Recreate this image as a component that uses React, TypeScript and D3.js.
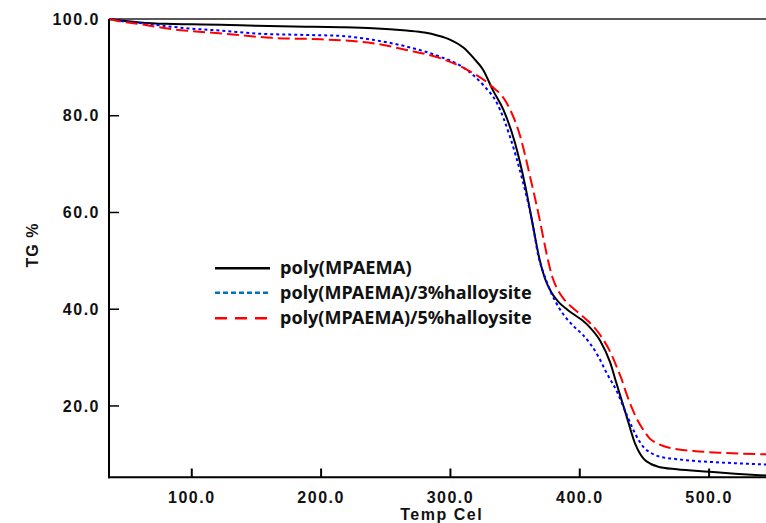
import React from "react";
import * as d3 from "d3";

const xTicks = [100, 200, 300, 400, 500];
const yTicks = [20, 40, 60, 80, 100];

const blackT = [36, 45, 60, 80, 100, 122, 150, 188, 215, 240, 266, 280, 290, 300, 310, 318, 325, 333, 341, 350, 358, 364, 369, 373, 378, 383.5, 390, 395, 402, 408, 416, 423.5, 428, 436.4, 442.8, 449.3, 455, 460, 475, 500, 520, 544];
const blackTG = [100, 99.7, 99.3, 99.0, 98.9, 98.8, 98.6, 98.4, 98.3, 98.1, 97.6, 97.2, 96.6, 95.7, 94.1, 91.9, 89.6, 85.2, 81.2, 74.3, 65.3, 57.0, 50.2, 46.4, 43.5, 41.5, 40.0, 39.0, 37.7, 36.2, 33.4, 29.0, 25.0, 17.7, 12.2, 9.1, 8.0, 7.5, 6.9, 6.4, 6.0, 5.6];

const blueT = [36, 45, 59, 84.5, 100, 123, 149, 188, 215, 240, 266, 292, 308, 318, 325.5, 336, 346, 355, 363, 368, 373, 378, 383.5, 390, 396, 402, 408, 414, 421, 428.7, 435, 440.3, 445, 449.3, 455, 462, 475, 488, 510, 544];
const blueTG = [100, 99.6, 99.2, 98.4, 98.0, 97.6, 97.0, 96.7, 96.5, 95.7, 94.3, 92.2, 90.3, 88.3, 86.3, 82.6, 75.7, 67.4, 58.4, 51.0, 46.7, 43.3, 40.5, 38.0, 36.3, 34.8, 32.9, 30.4, 26.7, 23.0, 19.0, 15.7, 13.2, 11.5, 10.3, 9.5, 9.0, 8.65, 8.3, 7.9];

const redT = [36, 45, 59, 84.5, 100, 123, 162, 200, 215, 240, 266, 292, 313, 331, 343.6, 354, 361.6, 369.4, 372, 376, 379, 383, 388, 394, 400.3, 407, 413.2, 418, 423.5, 428.7, 432, 436, 440.3, 445, 449.3, 454, 459.6, 470, 488, 510, 544];
const redTG = [100, 99.5, 99.0, 97.9, 97.5, 97.0, 96.1, 95.8, 95.6, 95.0, 93.6, 91.9, 89.5, 86.3, 82.6, 75.7, 67.4, 58.0, 54.5, 49.5, 46.5, 44.0, 42.0, 40.4, 39.0, 37.4, 35.6, 33.8, 31.2, 28.0, 25.8, 22.6, 19.6, 16.9, 15.0, 13.3, 12.3, 11.3, 10.7, 10.3, 10.0];

const seriesNames = ["poly(MPAEMA)", "poly(MPAEMA)/3%halloysite", "poly(MPAEMA)/5%halloysite"];

export default function App() {
  const W = 766, H = 523;
  const x = d3.scaleLinear().domain([36, 544]).range([109, 766]);
  const y = d3.scaleLinear().domain([5.25, 100]).range([477.3, 19]);
  const line = d3
    .line<[number, number]>()
    .x((d) => x(d[0]))
    .y((d) => y(d[1]))
    .curve(d3.curveMonotoneX);
  const zip = (a: number[], b: number[]) => a.map((v, i) => [v, b[i]] as [number, number]);

  const series = [
    { data: zip(blackT, blackTG), color: "#000000", dash: "", legendColor: "#000000", legendDash: "", width: 2 },
    { data: zip(blueT, blueTG), color: "#0000ff", dash: "3,3", legendColor: "#0070c0", legendDash: "5,3", width: 2 },
    { data: zip(redT, redTG), color: "#ff0000", dash: "12,5", legendColor: "#ff0000", legendDash: "12,8", width: 2 },
  ];

  const tickFont = { fontFamily: "'Liberation Sans', Arial, sans-serif", fontWeight: 700, fontSize: 16, letterSpacing: 1.5 } as const;
  const legendRows = [274, 299, 324];
  const legendLineY = [268.3, 292.7, 318.3];
  const legendWidths = [131.7, 251.7, 251.7];

  return (
    <svg width={W} height={H} style={{ position: "absolute", left: 0, top: 0, background: "#fff" }}>
      <rect x={0} y={0} width={W} height={H} fill="#fff" />
      <line x1={109} x2={766} y1={y(100)} y2={y(100)} stroke="#222" strokeWidth={1.5} />
      {series.map((s, i) => (
        <path key={i} d={line(s.data) || ""} fill="none" stroke={s.color} strokeWidth={s.width} strokeDasharray={s.dash} />
      ))}
      <line x1={109} x2={109} y1={y(100)} y2={478.3} stroke="#000" strokeWidth={2} />
      <line x1={108} x2={766} y1={477.3} y2={477.3} stroke="#000" strokeWidth={2} />
      {xTicks.map((t) => (
        <g key={"x" + t}>
          <line x1={x(t)} x2={x(t)} y1={477.3} y2={468.5} stroke="#000" strokeWidth={2} />
          <text x={x(t)} y={503} textAnchor="middle" fill="#111" {...tickFont}>
            {t.toFixed(1)}
          </text>
        </g>
      ))}
      {yTicks.map((t) => (
        <g key={"y" + t}>
          {t < 100 && <line x1={109} x2={119} y1={y(t)} y2={y(t)} stroke="#000" strokeWidth={1.5} />}
          <text x={100} y={y(t)} dy="0.36em" textAnchor="end" fill="#111" {...tickFont}>
            {t.toFixed(1)}
          </text>
        </g>
      ))}
      <text x={441.7} y={520} textAnchor="middle" fill="#111" {...tickFont}>
        Temp Cel
      </text>
      <text transform="translate(38,245) rotate(-90)" textAnchor="middle" fill="#111" {...tickFont} letterSpacing={1}>
        TG %
      </text>
      {series.map((s, i) => (
        <g key={"lg" + i}>
          <line x1={215} x2={270} y1={legendLineY[i]} y2={legendLineY[i]} stroke={s.legendColor} strokeWidth={2.5} strokeDasharray={s.legendDash} />
          <text
            x={280}
            y={legendRows[i]}
            fill="#111"
            fontFamily="'Noto Sans', 'Open Sans', sans-serif"
            fontWeight={700}
            fontSize={17}
            textLength={legendWidths[i]}
            lengthAdjust="spacingAndGlyphs"
          >
            {seriesNames[i]}
          </text>
        </g>
      ))}
    </svg>
  );
}
